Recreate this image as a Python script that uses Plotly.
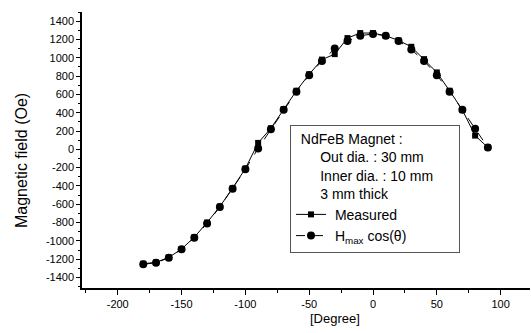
import plotly.graph_objects as go

angles = [-180, -170, -160, -150, -140, -130, -120, -110, -100, -90,
          -80, -70, -60, -50, -40, -30, -20, -10, 0, 10,
          20, 30, 40, 50, 60, 70, 80, 90]
measured = [-1250, -1235, -1180, -1090, -960, -800, -625, -425, -210, 70,
            230, 440, 640, 820, 980, 1040, 1215, 1270, 1270, 1240,
            1190, 1120, 985, 840, 640, 430, 150, 20]
hcos = [-1255, -1240, -1184, -1091, -965, -810, -630, -431, -219, 10,
        219, 431, 630, 810, 965, 1100, 1184, 1241, 1260, 1241,
        1184, 1091, 965, 810, 630, 431, 225, 20]

x_ticks = [-200, -150, -100, -50, 0, 50, 100]
y_ticks = list(range(-1400, 1401, 200))

font = "Liberation Sans, Arial, sans-serif"
NB = "\u00a0"

fig = go.Figure()
fig.add_trace(go.Scatter(
    x=angles, y=measured, mode="lines+markers", name=NB + "Measured",
    line=dict(color="black", width=1),
    marker=dict(symbol="square", size=6, color="black"),
))
fig.add_trace(go.Scatter(
    x=angles, y=hcos, mode="lines+markers",
    name=NB + "H<sub>max</sub> cos(θ)",
    line=dict(color="black", width=1, dash="dash"),
    marker=dict(symbol="circle", size=8, color="black"),
))

plot_w = 531 - 82 - 1
plot_h = 333 - 12 - 45

fig.update_layout(
    width=531, height=333,
    margin=dict(l=82, r=1, t=12, b=45),
    paper_bgcolor="white", plot_bgcolor="white",
    font=dict(family=font, color="black"),
    showlegend=True,
    legend=dict(
        x=(290 - 82) / plot_w, y=(288 - 125) / plot_h,
        xanchor="left", yanchor="top",
        bgcolor="white", bordercolor="#555", borderwidth=1,
        font=dict(size=14, family=font),
        itemwidth=30,
        title=dict(
            text=NB * 2 + "NdFeB Magnet :<br>" + NB * 7 + "Out dia. : 30 mm<br>"
                 + NB * 7 + "Inner dia. : 10 mm" + NB * 6 + "<br>"
                 + NB * 7 + "3 mm thick",
            font=dict(size=14, family=font), side="top",
        ),
    ),
    xaxis=dict(
        range=[-228, 123], tickvals=x_ticks, ticktext=[str(v) for v in x_ticks],
        showgrid=False, zeroline=False, showline=True, linecolor="black", linewidth=1.5,
        ticks="outside", ticklen=5, tickwidth=1.2, tickcolor="black",
        minor=dict(dtick=25, ticks="outside", ticklen=3, tickcolor="black", showgrid=False),
        tickfont=dict(size=11, family=font),
    ),
    yaxis=dict(
        range=[-1515, 1500], tickvals=y_ticks, ticktext=[str(v) for v in y_ticks],
        showgrid=False, zeroline=False, showline=True, linecolor="black", linewidth=1.5,
        ticks="outside", ticklen=4, tickwidth=1.2, tickcolor="black",
        minor=dict(dtick=100, ticks="outside", ticklen=2, tickcolor="black", showgrid=False),
        tickfont=dict(size=11, family=font),
    ),
    annotations=[
        dict(text="[Degree]", xref="paper", yref="paper",
             x=(335 - 82) / plot_w, y=-(318 - 288) / plot_h,
             xanchor="center", yanchor="middle", showarrow=False,
             font=dict(size=13, family=font)),
        dict(text="Magnetic field (Oe)", xref="paper", yref="paper",
             x=-(82 - 21) / plot_w, y=(288 - 161) / plot_h,
             xanchor="center", yanchor="middle", showarrow=False, textangle=-90,
             font=dict(size=16, family=font)),
    ],
)

fig.write_html("out.html", config={"displayModeBar": False},
               post_script="document.body.style.margin='0';")
